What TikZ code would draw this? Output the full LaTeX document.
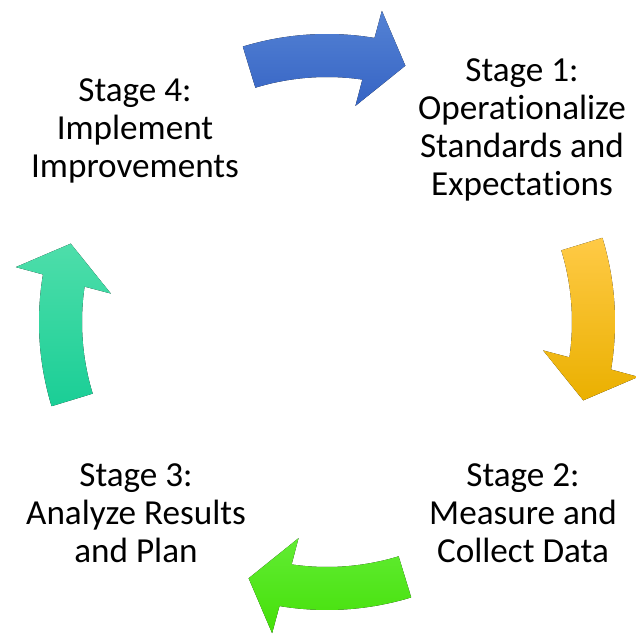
\documentclass[tikz,border=0pt]{standalone}
\usepackage{fontspec}
\setmainfont[Ligatures=NoCommon]{Carlito}
\usepackage{tikz}
\definecolor{bluetop}{RGB}{84,130,212}
\definecolor{bluebot}{RGB}{54,100,196}
\definecolor{yellowtop}{RGB}{255,202,70}
\definecolor{yellowbot}{RGB}{234,176,0}
\definecolor{greentop}{RGB}{98,236,52}
\definecolor{greenbot}{RGB}{68,224,8}
\definecolor{tealtop}{RGB}{78,222,170}
\definecolor{tealbot}{RGB}{26,206,150}
\tikzstyle{stage} = [align=center, inner sep=0pt, anchor=base, font=\fontsize{25}{27.2}\selectfont]
% one curved arrow of the cycle: #1 = middle angle, #2/#3 = top/bottom colour
\newcommand{\cyclearrow}[3]{
\fill[top color=#2, bottom color=#3, shift={(327,313)}]
  (#1+17:288) arc[start angle=#1+17, end angle=#1-9.5, radius=288]
  -- (#1-10:316) -- (#1-17:268) -- (#1-7.5:218) -- (#1-8.3:245)
  arc[start angle=#1-8.3, end angle=#1+17, radius=245] -- cycle;
}

\begin{document}
\begin{tikzpicture}[x=0.025cm, y=0.025cm]
\useasboundingbox (0,0) rectangle (636,635);
\cyclearrow{90}{bluetop}{bluebot}
\cyclearrow{0}{yellowtop}{yellowbot}
\cyclearrow{-90}{greentop}{greenbot}
\cyclearrow{180}{tealtop}{tealbot}
% nodes sit on the baseline of their last line
\node (s1) [stage] at (522,439) {Stage 1:\\Operationalize\\Standards and\\Expectations};
\node (s2) [stage] at (523,72) {Stage 2:\\Measure and\\Collect Data};
\node (s3) [stage] at (136,72) {Stage 3:\\Analyze Results\\and Plan};
\node (s4) [stage] at (135,457) {Stage 4:\\Implement\\Improvements};
\end{tikzpicture}
\end{document}
